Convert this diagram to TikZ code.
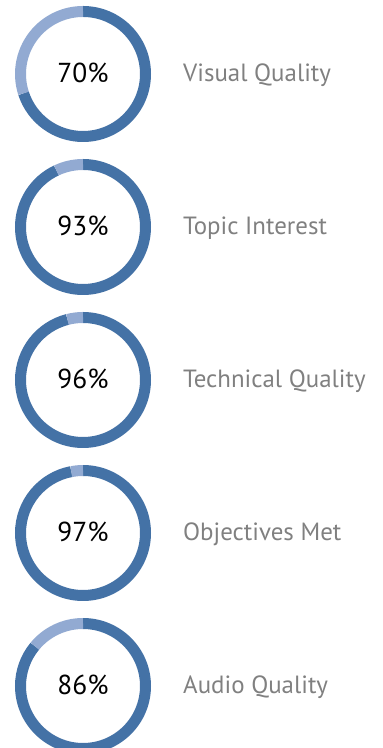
\documentclass[tikz,border=0pt]{standalone}
\usepackage{fontspec}
\setmainfont{PT Sans}
\definecolor{ringdark}{HTML}{4472A6}
\definecolor{ringlight}{HTML}{92AAD2}
\definecolor{labelgray}{HTML}{808080}
\begin{document}
\begin{tikzpicture}[x=1bp,y=1bp,
  pct/.style={font=\fontsize{27.5}{30}\selectfont, text=black, inner sep=0pt, anchor=base},
  lbl/.style={font=\fontsize{25}{28}\selectfont, text=labelgray, anchor=base west, inner sep=0pt},
  darkarc/.style={draw=ringdark, line width=11bp},
  lightarc/.style={draw=ringlight, line width=11bp}]
\clip (0,0) rectangle (382,748);
\useasboundingbox (0,0) rectangle (382,748);
\foreach \n/\y/\p/\t in {1/674/70/Visual Quality, 2/521/93/Topic Interest, 3/368/96/Technical Quality, 4/215/97/Objectives Met, 5/62/86/Audio Quality}{
  \coordinate (o\n) at (83,\y);
  \node[pct] (c\n) at ([yshift=-8.3bp]o\n) {\p\%};
  \draw[darkarc] ([shift={(90:62.5)}]o\n) arc (90:{90-3.6*\p}:62.5);
  \draw[lightarc] ([shift={({90-3.6*\p}:62.5)}]o\n) arc ({90-3.6*\p}:-270:62.5);
  \node[lbl] (l\n) at ([yshift=-7.5bp]183,\y) {\t};
}
\end{tikzpicture}
\end{document}
